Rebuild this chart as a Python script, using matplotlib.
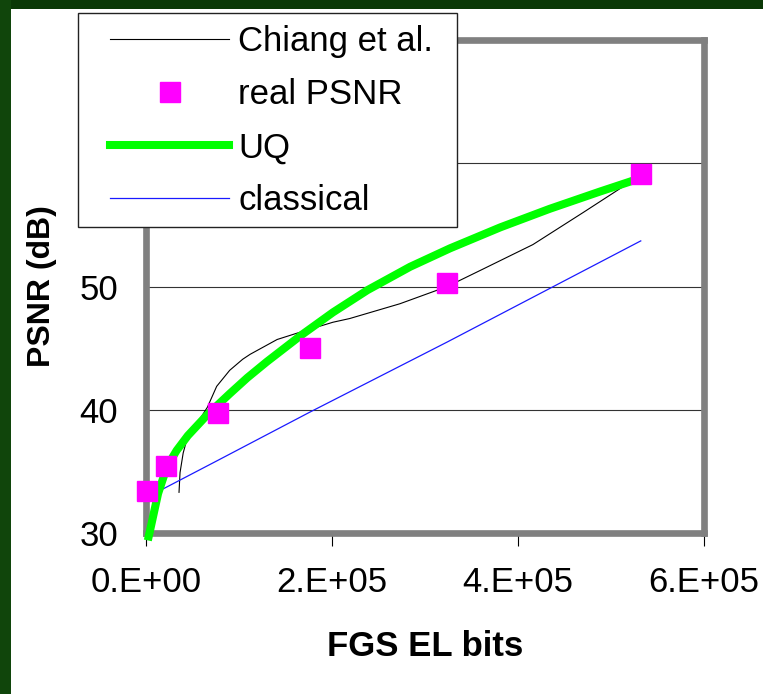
import matplotlib
matplotlib.use("Agg")
import matplotlib.pyplot as plt
from matplotlib.patches import Rectangle
from matplotlib.lines import Line2D

plt.rcParams['font.family'] = ['Liberation Sans', 'DejaVu Sans']

# ---- data ----
chiang_x = [0.355e5, 0.366e5, 0.40e5, 0.44e5, 0.55e5, 0.66e5, 0.76e5, 0.90e5, 1.04e5, 1.12e5,
            1.41e5, 1.66e5, 2.01e5, 2.19e5, 2.73e5, 3.24e5, 3.62e5, 4.16e5, 4.70e5, 5.17e5, 5.32e5]
chiang_y = [33.3, 34.9, 36.5, 37.6, 38.9, 40.2, 41.9, 43.2, 44.1, 44.5,
            45.7, 46.3, 47.1, 47.4, 48.6, 50.0, 51.4, 53.4, 56.0, 58.3, 58.9]

real_x = [0.01e5, 0.215e5, 0.774e5, 1.76e5, 3.24e5, 5.32e5]
real_y = [33.4, 35.4, 39.7, 45.0, 50.3, 59.1]

uq_x = [0.02e5, 0.075e5, 0.13e5, 0.226e5, 0.33e5, 0.45e5, 0.66e5, 0.90e5, 1.09e5, 1.30e5,
        1.66e5, 2.01e5, 2.38e5, 2.84e5, 3.27e5, 3.81e5, 4.34e5, 4.88e5, 5.24e5, 5.32e5]
uq_y = [29.4, 31.3, 33.2, 35.4, 36.7, 37.9, 39.6, 41.3, 42.6, 43.9,
        46.0, 47.9, 49.7, 51.6, 53.1, 54.8, 56.3, 57.7, 58.6, 58.9]

classical_x = [0.01e5, 0.215e5, 0.774e5, 1.76e5, 3.24e5, 5.32e5]
classical_y = [32.9, 33.7, 35.9, 39.8, 45.5, 53.7]

x_ticks = [0, 2e5, 4e5, 6e5]
x_tick_labels = ["0.E+00", "2.E+05", "4.E+05", "6.E+05"]
y_ticks = [30, 40, 50, 60, 70]

# ---- figure ----
W, H = 763, 694
fig = plt.figure(figsize=(W / 100, H / 100), dpi=100)
fig.patch.set_facecolor('white')

# slide background strips
fig.patches.append(Rectangle((0, 1 - 9 / H), 1, 9 / H, transform=fig.transFigure,
                             facecolor='#0a3806', edgecolor='none', zorder=0))
fig.patches.append(Rectangle((0, 0), 11 / W, 1, transform=fig.transFigure,
                             facecolor='#10450b', edgecolor='none', zorder=0))

ax = fig.add_axes([146 / W, 1 - 533 / H, (704 - 146) / W, (533 - 40) / H])
ax.set_facecolor('white')

ax.plot(chiang_x, chiang_y, color='black', lw=0.8, label='Chiang et al.', zorder=3)
ax.plot(classical_x, classical_y, color='#1a1aff', lw=0.9, label='classical', zorder=3)
ax.plot(uq_x, uq_y, color='#00ff00', lw=5.8, label='UQ', zorder=4, clip_on=False,
        solid_capstyle='butt', solid_joinstyle='round')
ax.plot(real_x, real_y, ls='none', marker='s', ms=14, color='#ff00ff', mec='#ff00ff',
        label='real PSNR', zorder=5, clip_on=False)

ax.set_xlim(0, 6e5)
ax.set_ylim(30, 70)
ax.set_xticks(x_ticks)
ax.set_xticklabels(x_tick_labels)
ax.set_yticks(y_ticks)
ax.tick_params(axis='x', direction='out', length=9, width=0.8, color='black',
               labelsize=25, pad=15)
ax.tick_params(axis='y', length=0, labelsize=25, pad=20)
ax.grid(axis='y', color='#333333', lw=0.8)
ax.set_axisbelow(True)

for s in ax.spines.values():
    s.set_color('#808080')
    s.set_linewidth(4.8)

ax.set_xlabel('FGS EL bits', fontsize=25, fontweight='bold', labelpad=22)
ax.set_ylabel('PSNR (dB)', fontsize=23, fontweight='bold')
ax.yaxis.set_label_coords(-0.16, 0.5)

# legend frame drawn separately (box 78..457 x 13..227 px)
fig.patches.append(Rectangle((78 / W, 1 - 227 / H), (457 - 78) / W, (227 - 13) / H,
                             transform=fig.transFigure, facecolor='white',
                             edgecolor='#222222', lw=1.0, zorder=4))

handles = [
    Line2D([], [], color='black', lw=0.8),
    Line2D([], [], ls='none', marker='s', ms=14, color='#ff00ff'),
    Line2D([], [], color='#00ff00', lw=5.8),
    Line2D([], [], color='#1a1aff', lw=0.9),
]
labels = ['Chiang et al.', 'real PSNR', 'UQ', 'classical']
leg = fig.legend(handles, labels, loc='upper left',
                 bbox_to_anchor=(110 / W, 1 - 25 / H), bbox_transform=fig.transFigure,
                 fontsize=25, frameon=False, handlelength=3.43, handletextpad=0.26,
                 labelspacing=0.58, borderpad=0, borderaxespad=0)
leg.set_zorder(5)

fig.savefig('out.png', dpi=100)
